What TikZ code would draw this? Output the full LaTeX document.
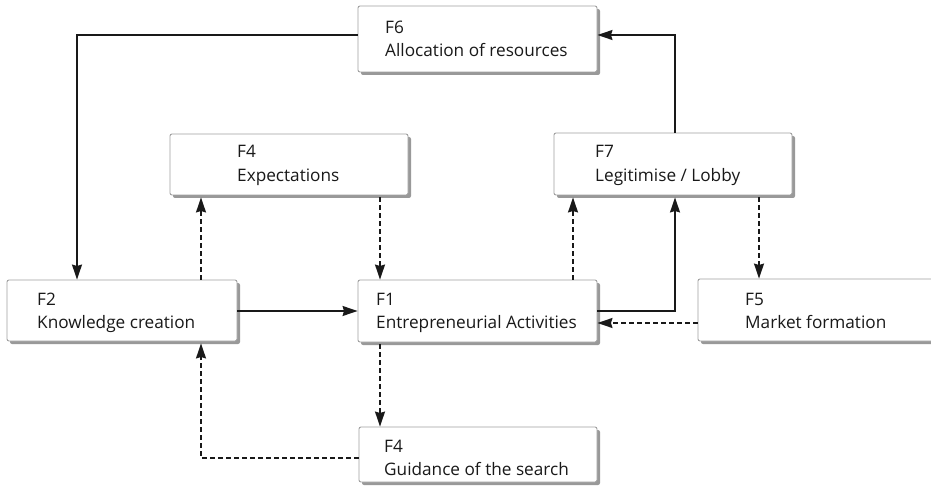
\documentclass[tikz,border=0pt]{standalone}
\usepackage{fontspec}
\setmainfont{Open Sans}
\usetikzlibrary{arrows.meta,shadows}
\begin{document}
\begin{tikzpicture}[x=1pt,y=-1pt,
  box/.style={draw=gray!75,line width=0.9pt,rounded corners=2pt,fill=white,inner sep=0pt,
    drop shadow={shadow xshift=3pt,shadow yshift=-3pt,fill=gray!80,opacity=1}},
  lbl/.style={anchor=base west,inner sep=0pt,font=\fontsize{17.2}{20}\selectfont,text=black!90},
  conn/.style={line width=1.5pt,draw=black!90,-{Stealth[length=15pt,width=10pt,inset=1.5pt]}},
  dconn/.style={conn,dash pattern=on 5pt off 3pt}]
\useasboundingbox (0,0) rectangle (931,486);
% boxes
\node[box,minimum width=239pt,minimum height=66pt] (F6) at (477.5,39) {};
\node[box,minimum width=238pt,minimum height=61pt] (F4e) at (289,164.5) {};
\node[box,minimum width=238pt,minimum height=62pt] (F7) at (673,164) {};
\node[box,minimum width=230pt,minimum height=61pt] (F2) at (122,310.5) {};
\node[box,minimum width=239pt,minimum height=62pt] (F1) at (477.5,311) {};
\node[box,minimum width=262pt,minimum height=62pt] (F5) at (829,310) {};
\node[box,minimum width=238pt,minimum height=55pt] (F4g) at (478,454.5) {};
% labels
\node[lbl] (t6a) at (385,34) {F6};
\node[lbl] (t6b) at (385,57) {Allocation of resources};
\node[lbl] (t4a) at (237,158) {F4};
\node[lbl] (t4b) at (237,182) {Expectations};
\node[lbl] (t7a) at (595,158) {F7};
\node[lbl] (t7b) at (595,182) {Legitimise / Lobby};
\node[lbl] (t2a) at (37,305) {F2};
\node[lbl] (t2b) at (37,328) {Knowledge creation};
\node[lbl] (t1a) at (376,305) {F1};
\node[lbl] (t1b) at (376,328) {Entrepreneurial Activities};
\node[lbl] (t5a) at (745,305) {F5};
\node[lbl] (t5b) at (745,328) {Market formation};
\node[lbl] (tga) at (384,452) {F4};
\node[lbl] (tgb) at (384,475) {Guidance of the search};
% helper x positions
\coordinate (x77) at (77,0);
\coordinate (x201) at (201,0);
\coordinate (x380) at (380,0);
\coordinate (x573) at (573,0);
\coordinate (x675) at (675,0);
\coordinate (x759) at (759,0);
\coordinate (y35) at (0,35);
\coordinate (y323) at (0,323);
\coordinate (y458) at (0,458);
% connectors
\draw[conn] (F6.west |- y35) -| (F2.north -| x77);
\draw[conn] (F7.north -| x675) |- (F6.east |- y35);
\draw[dconn] (F2.north -| x201) -- ([yshift=-2pt]F4e.south -| x201);
\draw[dconn] ([yshift=-2pt]F4e.south -| x380) -- (F1.north -| x380);
\draw[conn] (F2.east |- F1.west) -- (F1.west);
\draw[conn] (F1.east) -| ([yshift=-2pt]F7.south -| x675);
\draw[dconn] (F1.north -| x573) -- ([yshift=-2pt]F7.south -| x573);
\draw[dconn] ([yshift=-2pt]F7.south -| x759) -- (F5.north -| x759);
\draw[dconn] (F5.west |- y323) -- (F1.east |- y323);
\draw[dconn] ([yshift=-2pt]F1.south -| x380) -- (F4g.north -| x380);
\draw[dconn] (F4g.west |- y458) -| ([yshift=-2pt]F2.south -| x201);
\end{tikzpicture}
\end{document}
